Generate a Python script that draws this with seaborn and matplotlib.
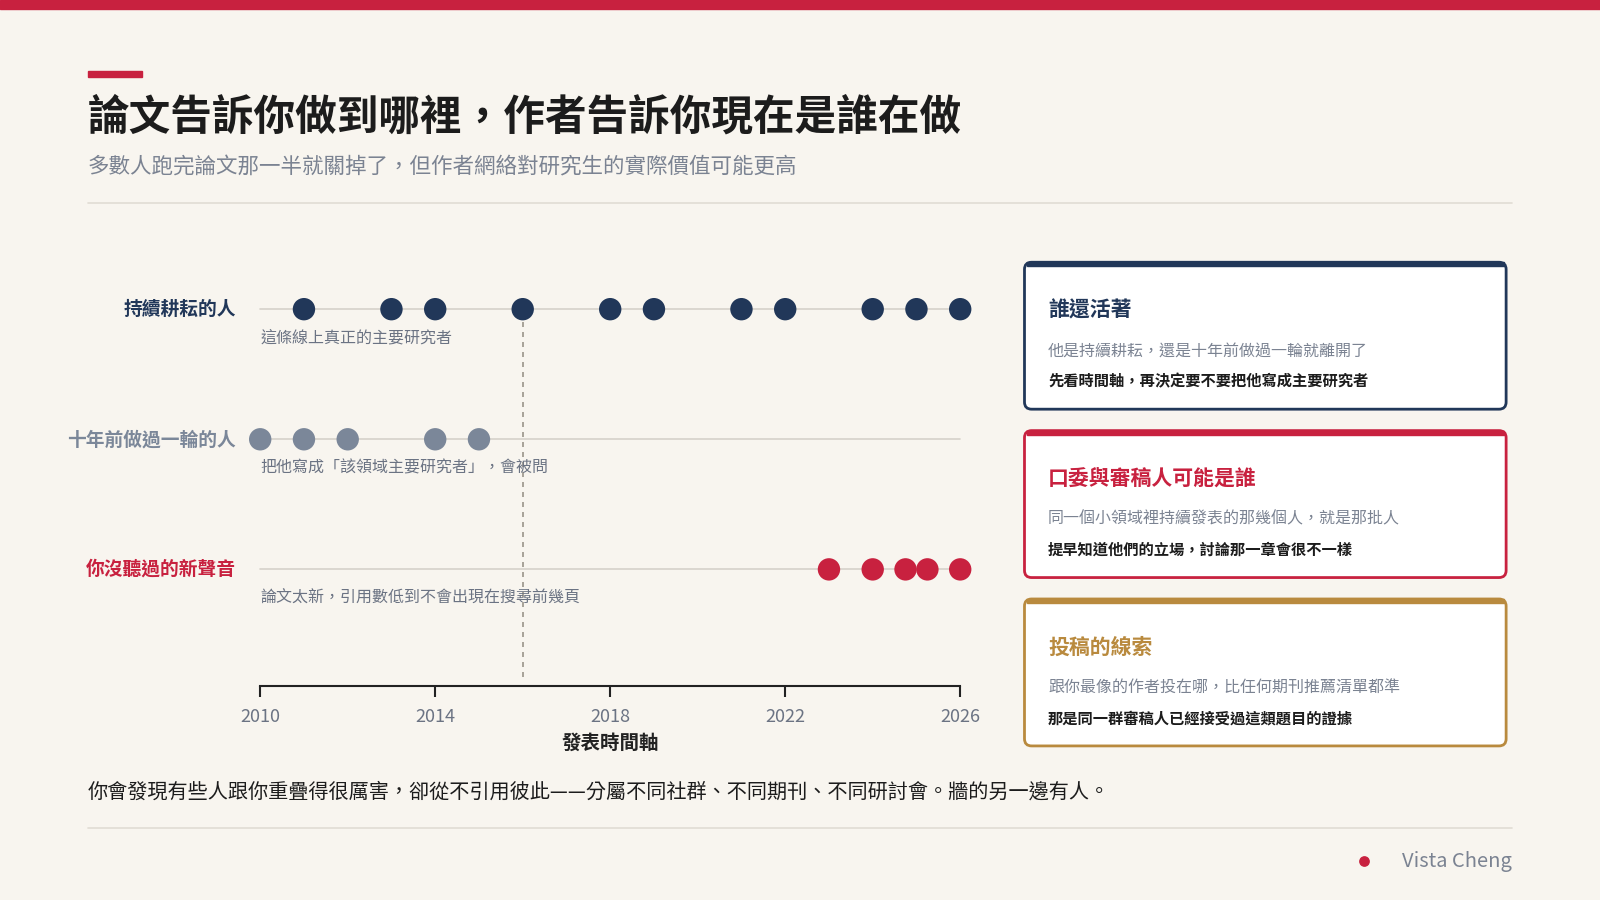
import matplotlib
matplotlib.use("Agg")
import matplotlib.pyplot as plt
import seaborn as sns
import pandas as pd
from matplotlib.patches import FancyBboxPatch, Rectangle

sns.set_theme(style="white")
plt.rcParams['font.family'] = ['Noto Sans CJK TC', 'DejaVu Sans']

BG = "#f8f5ef"; NAVY = "#213759"; GRAY = "#7b8799"; RED = "#c8213f"; GOLD = "#b98a3e"

row_labels = ["持續耕耘的人", "十年前做過一輪的人", "你沒聽過的新聲音"]
row_notes = ["這條線上真正的主要研究者", "把他寫成「該領域主要研究者」，會被問", "論文太新，引用數低到不會出現在搜尋前幾頁"]
years_steady = [2011, 2013, 2014, 2016, 2018, 2019, 2021, 2022, 2024, 2025, 2026]
years_past = [2010, 2011, 2012, 2014, 2015]
years_new = [2023, 2024, 2024.75, 2025.25, 2026]
row_colors = [NAVY, GRAY, RED]
xticks = [2010, 2014, 2018, 2022, 2026]
cutoff = 2016

df = pd.concat([
    pd.DataFrame({"year": years_steady, "row": 3, "grp": row_labels[0]}),
    pd.DataFrame({"year": years_past, "row": 2, "grp": row_labels[1]}),
    pd.DataFrame({"year": years_new, "row": 1, "grp": row_labels[2]}),
])

W, H = 1568, 882
fig = plt.figure(figsize=(16, 9), dpi=100)
fig.patch.set_facecolor(BG)

ax = fig.add_axes([255 / W, 1 - 672 / H, (941 - 255) / W, (672 - 265) / H])
ax.set_facecolor("none")
for r in [3, 2, 1]:
    ax.plot([2010, 2026], [r, r], color="#d6d2ca", lw=1.2, zorder=1, clip_on=False)
sns.scatterplot(data=df, x="year", y="row", hue="grp", palette=dict(zip(row_labels, row_colors)),
                s=260, edgecolor="none", legend=False, ax=ax, zorder=3, clip_on=False)
for c in ax.collections:
    c.set_clip_on(False)
ax.axvline(cutoff, ymin=0.02, ymax=0.93, color="#9a948a", ls=(0, (3, 3)), lw=1.2, zorder=2)
ax.set_xlim(2010, 2026)
ax.set_ylim(1 - 114 / 127.5, 3 + 38 / 127.5)
ax.set_yticks([])
for s in ["top", "right", "left"]:
    ax.spines[s].set_visible(False)
ax.spines["bottom"].set_color("#222222"); ax.spines["bottom"].set_linewidth(1.5)
ax.set_xticks(xticks)
ax.set_xticklabels([str(t) for t in xticks], color="#6b7383", fontsize=13)
ax.tick_params(axis="x", length=8, width=1.5, color="#222222", pad=8, bottom=True)
ax.set_xlabel("發表時間軸", fontsize=14, fontweight="bold", color="#222222", labelpad=6)
ax.set_ylabel("")

# overlay
ov = fig.add_axes([0, 0, 1, 1]); ov.set_xlim(0, W); ov.set_ylim(H, 0); ov.axis("off")
ov.set_facecolor("none")
ov.add_patch(Rectangle((0, 0), W, 9, color=RED))
ov.add_patch(Rectangle((86, 70), 53, 5, color=RED))
ov.text(86, 115, "論文告訴你做到哪裡，作者告訴你現在是誰在做", fontsize=30, fontweight="bold", color="#1c1c1c", va="center")
ov.text(86, 164, "多數人跑完論文那一半就關掉了，但作者網絡對研究生的實際價值可能更高", fontsize=15.5, color="#7b8392", va="center")
ov.plot([86, 1482], [199, 199], color="#e0dcd4", lw=1.2)

for (lab, note, col, y) in zip(row_labels, row_notes, row_colors, [303, 431, 558]):
    ov.text(231, y, lab, fontsize=13.5, fontweight="bold", color=col, ha="right", va="center")
    ov.text(255, y + 28, note, fontsize=11.5, color="#6b7383", va="center")

cards = [
    (257, NAVY, NAVY, "誰還活著", "他是持續耕耘，還是十年前做過一輪就離開了", "先看時間軸，再決定要不要把他寫成主要研究者"),
    (422, RED, RED, "口委與審稿人可能是誰", "同一個小領域裡持續發表的那幾個人，就是那批人", "提早知道他們的立場，討論那一章會很不一樣"),
    (587, GOLD, GOLD, "投稿的線索", "跟你最像的作者投在哪，比任何期刊推薦清單都準", "那是同一群審稿人已經接受過這類題目的證據"),
]
for (y0, ec, tc, t, l1, l2) in cards:
    ov.add_patch(FancyBboxPatch((1004, y0), 472, 144, boxstyle="round,pad=0,rounding_size=7",
                                facecolor="white", edgecolor=ec, lw=2))
    ov.add_patch(Rectangle((1006, y0), 468, 4, color=ec))
    ov.text(1027, y0 + 47, t, fontsize=15, fontweight="bold", color=tc, va="center")
    ov.text(1027, y0 + 87, l1, fontsize=11.5, color="#7b8392", va="center")
    ov.text(1027, y0 + 117, l2, fontsize=11, fontweight="bold", color="#1c1c1c", va="center")

ov.text(86, 776, "你會發現有些人跟你重疊得很厲害，卻從不引用彼此——分屬不同社群、不同期刊、不同研討會。牆的另一邊有人。",
        fontsize=14.5, color="#1c1c1c", va="center")
ov.plot([86, 1482], [811, 811], color="#e0dcd4", lw=1.2)
ov.scatter([1337], [844], s=45, color=RED)
ov.text(1482, 844, "Vista Cheng", fontsize=14.5, color="#7b8392", ha="right", va="center")

fig.savefig("out.png", dpi=100, facecolor=BG)
